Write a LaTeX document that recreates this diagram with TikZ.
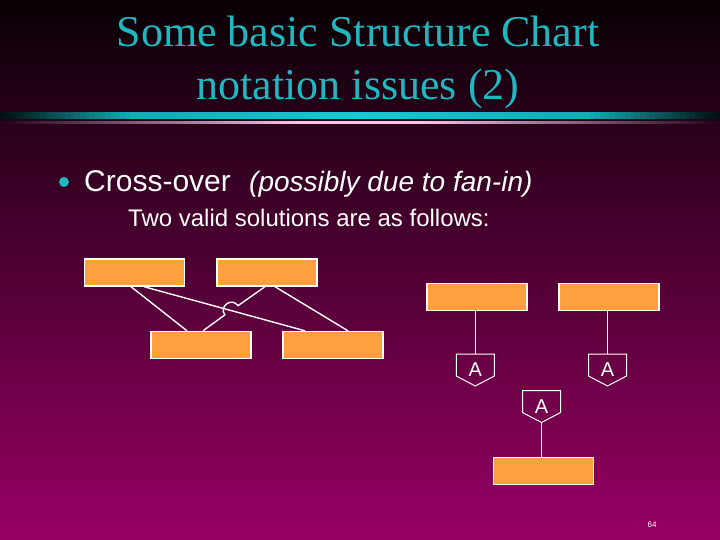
\documentclass[tikz,border=0pt]{standalone}
\usepackage{fontspec}
\setmainfont{Liberation Serif}
\newfontfamily\arialf{Liberation Sans}
\usetikzlibrary{calc}
\definecolor{orangebox}{RGB}{255,160,64}
\definecolor{titlecyan}{RGB}{32,184,192}
\definecolor{bgtop}{RGB}{8,0,4}
\definecolor{bgmid}{RGB}{104,0,68}
\definecolor{bgbot}{RGB}{152,0,100}
\definecolor{barcyan}{RGB}{16,204,212}
\definecolor{barend}{RGB}{0,12,14}
\definecolor{pinkbar}{RGB}{255,196,240}
\definecolor{pinkend}{RGB}{30,5,25}
\begin{document}
\begin{tikzpicture}[x=1pt,y=-1pt,
  box/.style={draw=white,line width=1.4pt,fill=orangebox,minimum width=100pt,minimum height=27pt,inner sep=0pt},
  link/.style={draw=white,line width=1.4pt},
  thinlink/.style={draw=white,line width=1pt},
  conn/.style={minimum width=38pt,minimum height=32pt,inner sep=0pt,outer sep=0pt,text=white,font=\arialf\fontsize{20}{20}\selectfont},
  connedge/.style={draw=white,line width=1pt,line join=miter}]
\shade[top color=bgtop,middle color=bgmid,bottom color=bgbot] (0,0) rectangle (720,540);
\useasboundingbox (0,0) rectangle (720,540);
% header bars
\foreach \i in {0,...,143}{
  \pgfmathsetmacro{\d}{360-abs(\i*5+2.5-360)}
  \pgfmathsetmacro{\p}{min(100,\d/130*100)*0.75+\d/360*25}
  \pgfmathsetmacro{\q}{min(100,\d/300*100)}
  \fill[barcyan!\p!barend] (\i*5,112) rectangle (\i*5+5.3,119);
  \fill[pinkbar!\q!pinkend] (\i*5,121) rectangle (\i*5+5.3,124);
}
% title
\node[anchor=base,text=titlecyan,font=\fontsize{44}{53}\selectfont,inner sep=0pt] (t1) at (358,47) {Some basic Structure Chart};
\node[anchor=base,text=titlecyan,font=\fontsize{44}{53}\selectfont,inner sep=0pt] (t2) at (358,100) {notation issues (2)};
% bullet text
\node[circle,fill=titlecyan,minimum size=10pt,inner sep=0pt] (bul) at (64,182) {};
\node[anchor=base west,text=white,inner sep=0pt,font=\arialf\fontsize{30}{30}\selectfont] (h1) at (84,192) {Cross-over};
\node[anchor=base west,text=white,inner sep=0pt,font=\arialf\itshape\fontsize{28}{28}\selectfont] (h1b) at (249,192) {(possibly due to fan-in)};
\node[anchor=base west,text=white,inner sep=0pt,font=\arialf\fontsize{24}{24}\selectfont] (h2) at (128,226) {Two valid solutions are as follows:};
% left solution
\node[box] (b1) at (134.5,272.5) {};
\node[box] (b2) at (267,272.5) {};
\node[box] (b3) at (201,345) {};
\node[box] (b4) at (333,345) {};
\coordinate (hs) at (238,305.7);
\coordinate (he) at (224.8,314.9);
\draw[link] ([xshift=-3.5pt]b1.south) -- ([xshift=-14pt]b3.north);
\draw[link] ([xshift=9.5pt]b1.south) -- ([xshift=-28pt]b4.north);
\draw[link] ([xshift=8pt]b2.south) -- ([xshift=15pt]b4.north);
\draw[link] ([xshift=-2pt]b2.south) -- (hs) .. controls (231.9,296.9) and (218.7,306.1) .. (he) -- ([xshift=2pt]b3.north);
% right solution
\node[box] (b5) at (477,297) {};
\node[box] (b6) at (609,297) {};
\node[box] (b7) at (543.3,470.8) {};
\node[conn] (c1) at (475.3,370) {A};
\node[conn] (c2) at (607.5,370) {A};
\node[conn] (c3) at (541.5,406.5) {A};
\foreach \c in {c1,c2,c3}{
  \draw[connedge] (\c.north west) -- ([yshift=10pt]\c.south west) -- (\c.south) -- ([yshift=10pt]\c.south east) -- (\c.north east) -- cycle;
}
\draw[thinlink] (c1.north) -- (c1.north |- b5.south);
\draw[thinlink] (c2.north) -- (c2.north |- b6.south);
\draw[thinlink] (c3.south) -- (c3.south |- b7.north);
% page number
\node[text=white,font=\arialf\fontsize{8}{8}\selectfont,inner sep=0pt] (pg) at (652,525) {64};
\end{tikzpicture}
\end{document}
